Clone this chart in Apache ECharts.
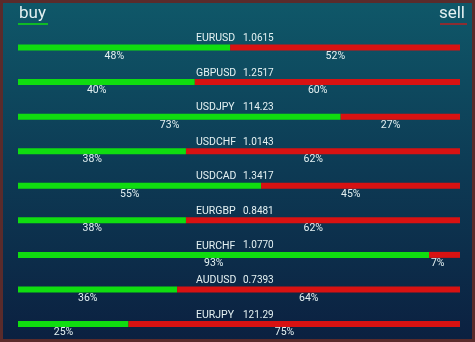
<!DOCTYPE html>
<html>
<head>
<meta charset="utf-8">
<script src="https://cdn.jsdelivr.net/npm/echarts@6/dist/echarts.min.js"></script>
<style>
html,body{margin:0;padding:0;background:#0b2141;}
#c{width:475px;height:342px;}
</style>
</head>
<body>
<div id="c"></div>
<script>
var pairs = ['EURUSD','GBPUSD','USDJPY','USDCHF','USDCAD','EURGBP','EURCHF','AUDUSD','EURJPY'];
var prices = ['1.0615','1.2517','114.23','1.0143','1.3417','0.8481','1.0770','0.7393','121.29'];
var buyPct = [48,40,73,38,55,38,93,36,25];
var sellPct = [52,60,27,62,45,62,7,64,75];

var chart = echarts.init(document.getElementById('c'));
var txt = '#e4f1f2';
chart.setOption({
  animation: false,
  backgroundColor: {type:'linear',x:0,y:0,x2:0,y2:1,colorStops:[
    {offset:0,color:'#0f5869'},{offset:0.5,color:'#0d3a54'},{offset:1,color:'#0b2040'}]},
  grid: {left:18, right:15, top:47.5, bottom:18, containLabel:false},
  xAxis: {type:'value', min:0, max:100, show:false},
  yAxis: {
    type:'category', data: pairs, inverse:true, boundaryGap:false,
    axisLine:{show:false}, axisTick:{show:false}, splitLine:{show:false},
    axisLabel:{
      inside:true, margin:178, verticalAlign:'bottom', padding:[0,0,3,0],
      formatter: function(v, i){ return '{n|' + v + '}{v|' + prices[i] + '}'; },
      rich:{
        n:{color:txt, fontFamily:'Roboto', fontSize:10.5, width:47, lineHeight:12},
        v:{color:txt, fontFamily:'Roboto', fontSize:10, lineHeight:12}
      }
    }
  },
  series: [
    {type:'bar', name:'buy', stack:'s', data: buyPct, barWidth:6,
     itemStyle:{color:'#10dd10'},
     label:{show:true, position:'bottom', align:'right', distance:0, color:txt,
            fontFamily:'Roboto', fontSize:10.5, formatter:'{c}%'}},
    {type:'bar', name:'sell', stack:'s', data: sellPct, barWidth:6,
     itemStyle:{color:'#d81212'},
     label:{show:true, position:'bottom', align:'right', distance:0, color:txt,
            fontFamily:'Roboto', fontSize:10.5, formatter:'{c}%'}}
  ],
  graphic: [
    {type:'rect', shape:{x:1.5,y:1.5,width:472,height:339}, style:{fill:'none', stroke:'#5a2b2b', lineWidth:3}, silent:true},
    {type:'text', x:19, y:5, style:{text:'buy', fill:txt, font:'17px Roboto', verticalAlign:'top', align:'left'}},
    {type:'line', shape:{x1:18,y1:24,x2:48,y2:24}, style:{stroke:'#10dd10', lineWidth:1.5}},
    {type:'text', x:465, y:5, style:{text:'sell', fill:txt, font:'17px Roboto', verticalAlign:'top', align:'right'}},
    {type:'line', shape:{x1:440,y1:24,x2:467,y2:24}, style:{stroke:'#b82020', lineWidth:1.5}}
  ]
});
</script>
</body>
</html>
